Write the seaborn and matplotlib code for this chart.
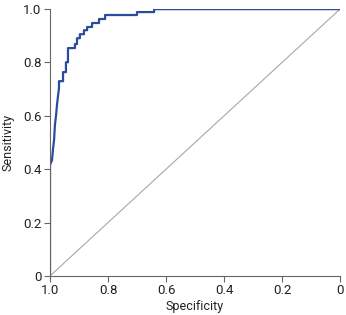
import matplotlib
matplotlib.use("Agg")
import matplotlib.pyplot as plt
import seaborn as sns
import pandas as pd

# ROC curve corner points (specificity, sensitivity)
specificity = [1.000, 1.000, 0.993, 0.990, 0.986, 0.983, 0.979, 0.976, 0.972,
               0.969, 0.969, 0.955, 0.955, 0.945, 0.945, 0.938, 0.938,
               0.914, 0.914, 0.907, 0.907, 0.897, 0.897, 0.883, 0.883,
               0.872, 0.872, 0.855, 0.855, 0.831, 0.831, 0.810, 0.810,
               0.700, 0.700, 0.641, 0.641, 0.000]
sensitivity = [0.000, 0.416, 0.434, 0.472, 0.509, 0.566, 0.603, 0.640, 0.678,
               0.704, 0.730, 0.730, 0.764, 0.764, 0.801, 0.801, 0.854,
               0.854, 0.869, 0.869, 0.891, 0.891, 0.906, 0.906, 0.921,
               0.921, 0.933, 0.933, 0.948, 0.948, 0.963, 0.963, 0.978,
               0.978, 0.989, 0.989, 1.000, 1.000]

ref_x = [1.0, 0.0]
ref_y = [0.0, 1.0]

tick_vals = [0, 0.2, 0.4, 0.6, 0.8, 1.0]
tick_labels = ["0", "0.2", "0.4", "0.6", "0.8", "1.0"]

sns.set_style("white")
plt.rcParams['font.family'] = ['Roboto', 'DejaVu Sans']

fig = plt.figure(figsize=(3.46, 3.15), dpi=100)
ax = fig.add_axes([0.1445, 0.124, 0.8382, 0.847])

df = pd.DataFrame({"Specificity": specificity, "Sensitivity": sensitivity})
sns.lineplot(x=ref_x, y=ref_y, ax=ax, color="#a8a8a8", linewidth=0.8, sort=False)
sns.lineplot(data=df, x="Specificity", y="Sensitivity", ax=ax, sort=False,
             estimator=None, color="#2b4c9b", linewidth=1.6)

ax.set_xlim(1.0, 0.0)
ax.set_ylim(0.0, 1.0)
ax.set_xticks(tick_vals)
ax.set_xticklabels(tick_labels)
ax.set_yticks(tick_vals)
ax.set_yticklabels(tick_labels)

for side in ["top", "right"]:
    ax.spines[side].set_visible(False)
for side in ["left", "bottom"]:
    ax.spines[side].set_color("#666666")
    ax.spines[side].set_linewidth(0.8)

ax.tick_params(axis="both", direction="out", length=4, width=0.8,
               color="#666666", labelsize=9.5, labelcolor="#222222", pad=2,
               left=True, bottom=True)
ax.set_xlabel("Specificity", fontsize=9, color="#222222", labelpad=2)
ax.set_ylabel("Sensitivity", fontsize=9, color="#222222", labelpad=6)

fig.savefig("out.png", dpi=100)
